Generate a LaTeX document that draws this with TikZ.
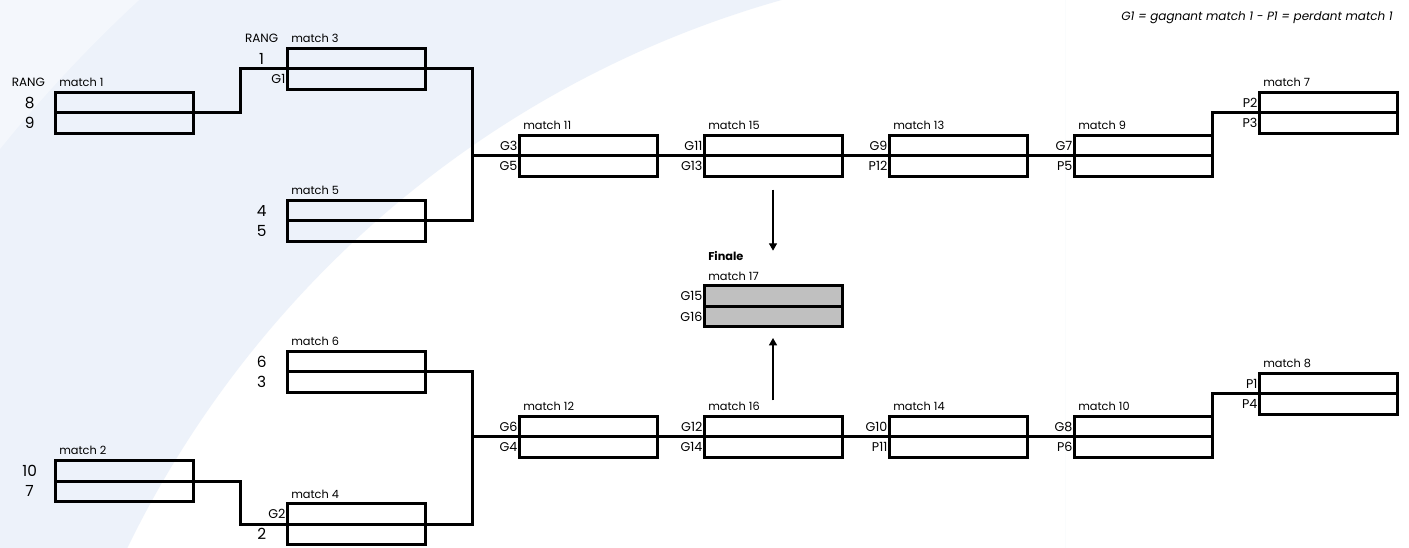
\documentclass[tikz,border=0pt]{standalone}
\usepackage{fontspec}
\setmainfont{Poppins}
\usetikzlibrary{positioning,arrows.meta}

\definecolor{bgblue}{RGB}{237,242,250}
\definecolor{bglight}{RGB}{244,247,252}
\definecolor{finalgray}{RGB}{192,192,192}

\begin{document}
\begin{tikzpicture}[
  x=0.75pt, y=-0.75pt,
  node distance=35.25pt,
  box/.style={draw, line width=2.25pt, minimum width=103.5pt, minimum height=31pt, inner sep=0pt, outer sep=0pt, fill=#1},
  box/.default=none,
  slot/.style={font=\fontsize{9.5}{11}\selectfont, anchor=east, inner sep=1pt},
  seed/.style={font=\fontsize{11.5}{13}\selectfont, inner sep=0pt},
  title/.style={font=\fontsize{8.5}{10}\selectfont, anchor=base west, inner sep=0pt},
  rang/.style={font=\fontsize{9}{10}\selectfont, anchor=base, inner sep=0pt},
  wire/.style={line width=2.25pt},
  arr/.style={-{Triangle[length=5.5pt,width=6pt]}, line width=1pt}
]
\useasboundingbox (0,0) rectangle (1409,548);

% background swoosh
\fill[white] (0,0) rectangle (1409,548);
\begin{scope}
  \clip (0,0) rectangle (1065,548);
  \fill[bgblue, even odd rule] (0,0) rectangle (1065,548) (1065,1003) circle[radius=781.5pt];
  \fill[bglight, even odd rule] (0,0) rectangle (1065,548) (1065,1003) circle[radius=1023.75pt];
\end{scope}

% left bracket
\node[box] (m1) at (124,113) {};
\node[box] (m3) at (356,69) {};
\node[box] (m5) at (356,221) {};
\node[box] (m6) at (356,372) {};
\node[box] (m4) at (356,524) {};
\node[box] (m2) at (124,481) {};

% upper row
\node[box] (m11) at (588,156) {};
\node[box, right=of m11] (m15) {};
\node[box, right=of m15] (m13) {};
\node[box, right=of m13] (m9) {};
\node[box, right=of m9, yshift=32.25pt] (m7) {};

% lower row
\node[box] (m12) at (588,437) {};
\node[box, right=of m12] (m16) {};
\node[box, right=of m16] (m14) {};
\node[box, right=of m14] (m10) {};
\node[box, right=of m10, yshift=32.25pt] (m8) {};

% final
\node[box=finalgray, below=81.75pt of m15] (m17) {};

% match titles
\foreach \m/\t in {m1/1, m2/2, m3/3, m4/4, m5/5, m6/6, m7/7, m8/8, m9/9, m10/10,
                   m11/11, m12/12, m13/13, m14/14, m15/15, m16/16, m17/17}
  \node[title] (\m-title) at ([xshift=3pt, yshift=4pt]\m.north west) {match \t};
\node[rang] (rang1) at ([xshift=-20pt, yshift=4pt]m1.north west) {RANG};
\node[rang] (rang3) at ([xshift=-19pt, yshift=4pt]m3.north west) {RANG};
\node[anchor=base west, inner sep=0pt, font=\bfseries\fontsize{8.5}{10}\selectfont] (finale)
  at ([xshift=3pt, yshift=18.75pt]m17.north west) {Finale};

% seeds
\foreach \m/\a/\b in {m1/8/9, m2/10/7, m5/4/5, m6/6/3} {
  \node[seed] (\m-a) at ([xshift=-19pt, yshift=7.75pt]\m.west) {\a};
  \node[seed] (\m-b) at ([xshift=-19pt, yshift=-7.75pt]\m.west) {\b};
}
\node[seed] (m3-a) at ([xshift=-19pt, yshift=7.75pt]m3.west) {1};
\node[slot] (m3-b) at ([yshift=-7.75pt]m3.west) {G1};
\node[slot] (m4-a) at ([yshift=7.75pt]m4.west) {G2};
\node[seed] (m4-b) at ([xshift=-19pt, yshift=-7.75pt]m4.west) {2};

% slots
\foreach \m/\a/\b in {m11/G3/G5, m15/G11/G13, m13/G9/P12, m9/G7/P5, m7/P2/P3,
                      m12/G6/G4, m16/G12/G14, m14/G10/P11, m10/G8/P6, m8/P1/P4,
                      m17/G15/G16} {
  \node[slot] (\m-a) at ([yshift=7.75pt]\m.west) {\a};
  \node[slot] (\m-b) at ([yshift=-7.75pt]\m.west) {\b};
}

% box dividers
\foreach \m in {m1,m2,m3,m4,m5,m6,m7,m8,m9,m10,m11,m12,m13,m14,m15,m16,m17}
  \draw[wire] (\m.west) -- (\m.east);

% connectors
\draw[wire] (m1.east) -- ++(47,0) |- (m3.west);
\draw[wire] (m3.east) -- ++(47,0) |- (m5.east);
\draw[wire] (m11.west) -- ++(-47,0);
\draw[wire] (m2.east) -- ++(47,0) |- (m4.west);
\draw[wire] (m6.east) -- ++(47,0) |- (m4.east);
\draw[wire] (m12.west) -- ++(-47,0);
\draw[wire] (m11.east) -- (m15.west);
\draw[wire] (m15.east) -- (m13.west);
\draw[wire] (m13.east) -- (m9.west);
\draw[wire] (m9.east) |- (m7.west);
\draw[wire] (m12.east) -- (m16.west);
\draw[wire] (m16.east) -- (m14.west);
\draw[wire] (m14.east) -- (m10.west);
\draw[wire] (m10.east) |- (m8.west);
\draw[arr] ([yshift=-9.75pt]m15.south) -- ([yshift=26.25pt]m17.north);
\draw[arr] ([yshift=12pt]m16.north) -- ([yshift=-8.25pt]m17.south);

% legend
\node[anchor=base east, inner sep=0pt, font=\itshape\fontsize{9}{10}\selectfont] (legend)
  at (1393,21) {G1 = gagnant match 1 - P1 = perdant match 1};
\end{tikzpicture}
\end{document}
